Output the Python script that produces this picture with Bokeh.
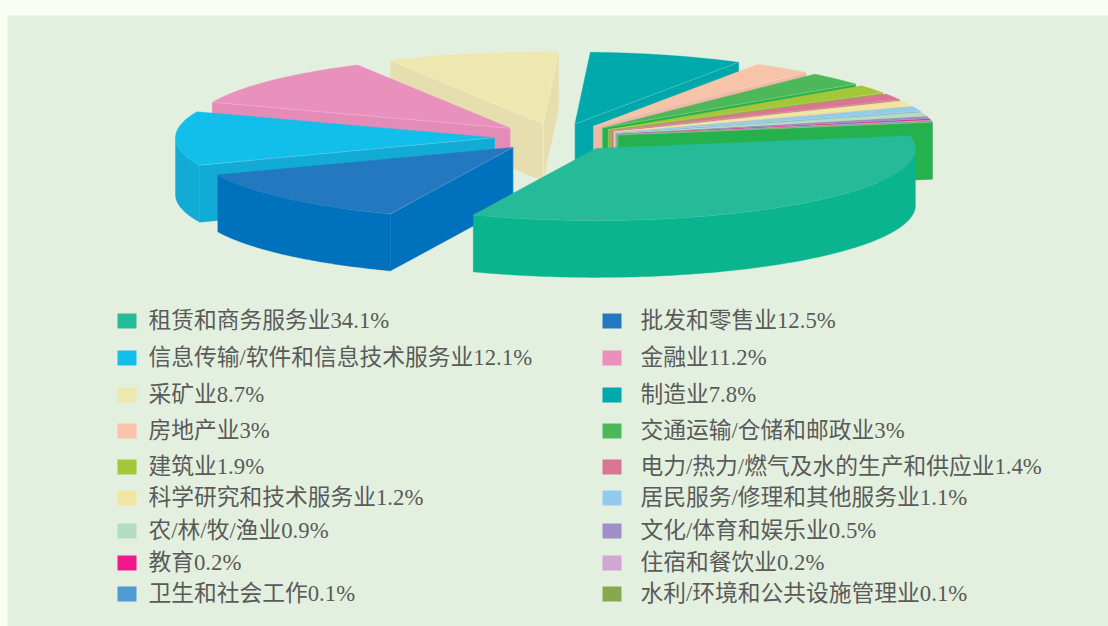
import numpy as np
from bokeh.plotting import figure
from bokeh.core.properties import value
from bokeh.embed import file_html
from bokeh.resources import INLINE
from bokeh.models import Range1d

categories = ["租赁和商务服务业", "批发和零售业", "信息传输/软件和信息技术服务业", "金融业", "采矿业", "制造业",
              "房地产业", "交通运输/仓储和邮政业", "建筑业", "电力/热力/燃气及水的生产和供应业", "科学研究和技术服务业",
              "居民服务/修理和其他服务业", "农/林/牧/渔业", "文化/体育和娱乐业", "教育", "住宿和餐饮业",
              "卫生和社会工作", "水利/环境和公共设施管理业"]
shares = [34.1, 12.5, 12.1, 11.2, 8.7, 7.8, 3, 3, 1.9, 1.4, 1.2, 1.1, 0.9, 0.5, 0.2, 0.2, 0.1, 0.1]
top_colors = ["#26bb98", "#2478bf", "#12bfea", "#ea90bd", "#efe7b0", "#00a9ac", "#f7c4aa", "#4cb85a", "#a4c639",
              "#d87693", "#f0e6a0", "#92cbee", "#b3dcc2", "#a08fc6", "#ee1889", "#cfa6d4", "#4e9ad2", "#85a94f"]
side_colors = ["#0ab48e", "#0071bc", "#11abd6", "#e48cb7", "#e6deae", "#00a7aa", "#efb9a6", "#25b24e", "#96b43b",
               "#c96f8c", "#e0d795", "#6f9fbf", "#7f9f90", "#6c5f90", "#b01070", "#8f7b94", "#3a6a90", "#25b24e"]
draw_order = [4, 3, 2, 1, 5, 6, 7, 8, 9, 10, 11, 12, 13, 14, 15, 16, 17, 0]

W, H = 1108, 626
PAGE = "#fafdf3"
PANEL = "#e4f0df"
CX, CY = 556.5, 137.0
A, B = 319.5, 72.0
EXPLODE = 62.0
DEPTH = 57.0
START = -10.2

p = figure(width=W, height=H, output_backend="svg", toolbar_location=None,
           x_range=Range1d(0, W), y_range=Range1d(H, 0),
           background_fill_color=PAGE, border_fill_color=PAGE, min_border=0, outline_line_color=None)
p.axis.visible = False
p.grid.visible = False
p.quad(left=[7], right=[W], top=[15], bottom=[H], fill_color=PANEL, line_color=None)

angles = np.array(shares) / sum(shares) * 360.0
edges = START + np.concatenate([[0], np.cumsum(angles)])


def poly(xs, ys, color):
    p.patch(list(xs), list(ys), fill_color=color, line_color=color, line_width=0.4)


def hi(xs, ys):
    p.line(list(xs), list(ys), line_color="#ffffff", line_alpha=0.3, line_width=0.7)


for i in draw_order:
    t0, t1 = edges[i], edges[i + 1]
    mid = np.radians((t0 + t1) / 2)
    ax = CX + EXPLODE * np.cos(mid)
    ay = CY + EXPLODE * (B / A) * np.sin(mid)
    ts = np.linspace(t0, t1, max(6, int((t1 - t0) * 2)))
    rx = ax + A * np.cos(np.radians(ts))
    ry = ay + B * np.sin(np.radians(ts))
    side = side_colors[i]

    # radial walls that face the viewer
    walls = []
    if np.cos(np.radians(t0)) < 0:
        walls.append((rx[0], ry[0]))
    if np.cos(np.radians(t1)) > 0:
        walls.append((rx[-1], ry[-1]))
    for ex, ey in walls:
        poly([ax, ex, ex, ax], [ay, ey, ey + DEPTH, ay + DEPTH], side)

    # outer rim, the part on the near half of the ellipse
    lo, hi_t = max(t0, 0), min(t1, 180)
    if lo < hi_t:
        tr = np.radians(np.linspace(lo, hi_t, 120))
        ux = ax + A * np.cos(tr)
        uy = ay + B * np.sin(tr)
        poly(np.concatenate([ux, ux[::-1]]), np.concatenate([uy, uy[::-1] + DEPTH]), side)
        hi(ux, uy)

    # top face
    poly(np.concatenate([[ax], rx]), np.concatenate([[ay], ry]), top_colors[i])
    for ex, ey in walls:
        hi([ax, ex], [ay, ey])
        hi([ax, ax], [ay, ay + DEPTH])

# legend
left_x = [117, 602]
text_x = [148, 640]
row_y = [320, 357, 394, 430, 466, 497, 530, 562, 593]
for i, (c, s) in enumerate(zip(categories, shares)):
    col, row = i % 2, i // 2
    y = row_y[row]
    p.quad(left=[left_x[col]], right=[left_x[col] + 19], top=[y - 7], bottom=[y + 8],
           fill_color=top_colors[i], line_color=None)
    p.text(x=[text_x[col]], y=[y], text=[f"{c}{s:g}%"], text_baseline="middle", text_align="left",
           text_font=value("Liberation Serif, Noto Sans CJK SC"), text_font_size="22.75px", text_color="#5a5a5a")

html = file_html(p, INLINE)
html = html.replace("<head>", f"<head><style>html,body{{background:{PAGE};overflow:hidden}}</style>", 1)
open("out.html", "w").write(html)
